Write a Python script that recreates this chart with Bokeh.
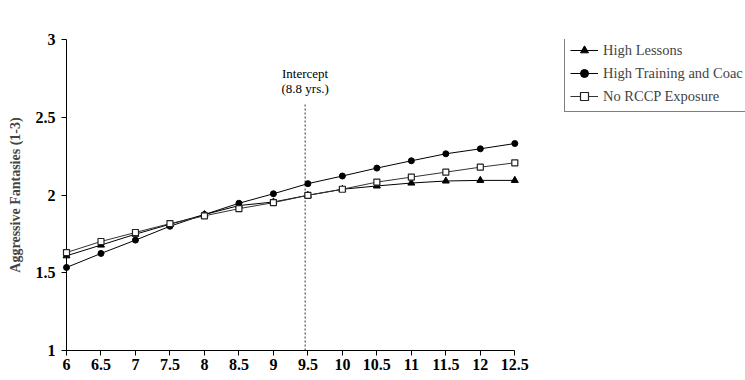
from bokeh.plotting import figure
from bokeh.models import Range1d, FixedTicker, NumeralTickFormatter, Legend, LegendItem, Label
from bokeh.embed import file_html
from bokeh.resources import INLINE

age = [6, 6.5, 7, 7.5, 8, 8.5, 9, 9.5, 10, 10.5, 11, 11.5, 12, 12.5]
high_lessons = [1.609, 1.678, 1.748, 1.812, 1.874, 1.932, 1.955, 1.998, 2.037, 2.058, 2.077, 2.090, 2.094, 2.094]
high_training = [1.534, 1.624, 1.710, 1.799, 1.874, 1.947, 2.008, 2.073, 2.122, 2.173, 2.220, 2.265, 2.297, 2.331]
no_rccp = [1.630, 1.701, 1.759, 1.816, 1.866, 1.912, 1.951, 1.998, 2.037, 2.083, 2.115, 2.147, 2.179, 2.207]
x_ticks = [6, 6.5, 7, 7.5, 8, 8.5, 9, 9.5, 10, 10.5, 11, 11.5, 12, 12.5]
y_ticks = [1, 1.5, 2, 2.5, 3]
intercept_x = 9.46
intercept_top = 2.588

SERIF = "Liberation Serif"

# frame spans the full width to the right edge; the x axis itself stops at 12.5
p = figure(width=745, height=380, output_backend="svg", toolbar_location=None,
           x_range=Range1d(6, 15.845), y_range=Range1d(1, 3),
           min_border_left=66, min_border_right=0, min_border_top=39, min_border_bottom=30)
p.outline_line_color = None
p.xgrid.visible = False
p.ygrid.visible = False
p.background_fill_color = "white"

for ax in (p.xaxis[0], p.yaxis[0]):
    ax.axis_line_color = "black"
    ax.axis_line_width = 1
    ax.major_tick_line_color = "black"
    ax.major_tick_in = 0
    ax.major_tick_out = 5
    ax.minor_tick_line_color = None
    ax.major_label_text_font = SERIF
    ax.major_label_text_font_style = "bold"
    ax.major_label_text_font_size = "16px"
    ax.major_label_text_color = "black"

p.xaxis.bounds = (6, 12.5)
p.xaxis.ticker = FixedTicker(ticks=x_ticks)
p.yaxis.ticker = FixedTicker(ticks=y_ticks)
p.xaxis.formatter = NumeralTickFormatter(format="0.[0]")
p.yaxis.formatter = NumeralTickFormatter(format="0.[0]")
p.xaxis.major_label_standoff = 3
p.yaxis.major_label_standoff = 6

p.yaxis.axis_label = "Aggressive Fantasies (1-3)"
p.yaxis.axis_label_text_font = SERIF
p.yaxis.axis_label_text_font_style = "bold"
p.yaxis.axis_label_text_font_size = "14px"
p.yaxis.axis_label_standoff = 10

# intercept reference line
p.segment(x0=[intercept_x], y0=[1], x1=[intercept_x], y1=[intercept_top],
          line_color="#333333", line_width=1, line_dash="2 2")
p.add_layout(Label(x=intercept_x, y=2.78, text="Intercept", text_align="center",
                   text_baseline="middle", text_font=SERIF, text_font_size="13px",
                   text_color="black"))
p.add_layout(Label(x=intercept_x, y=2.685, text="(8.8 yrs.)", text_align="center",
                   text_baseline="middle", text_font=SERIF, text_font_size="13px",
                   text_color="black"))

l1 = p.line(age, high_lessons, line_color="black", line_width=1)
m1 = p.scatter(age, high_lessons, marker="triangle", size=7, fill_color="black", line_color="black")
l2 = p.line(age, high_training, line_color="black", line_width=1)
m2 = p.scatter(age, high_training, marker="circle", size=6, fill_color="black", line_color="black")
l3 = p.line(age, no_rccp, line_color="#333333", line_width=1)
m3 = p.scatter(age, no_rccp, marker="square", size=6, fill_color="white", line_color="#222222", line_width=1.2)
for r in (m1, m2, m3):
    r.level = "overlay"

legend = Legend(items=[
    LegendItem(label="High Lessons", renderers=[l1, m1]),
    LegendItem(label="High Training and Coac", renderers=[l2, m2]),
    LegendItem(label="No RCCP Exposure", renderers=[l3, m3]),
], location=(498, 238))
legend.label_text_font = SERIF
legend.label_text_font_size = "14.5px"
legend.border_line_color = "black"
legend.border_line_width = 1
legend.padding = 5
legend.spacing = 3
legend.glyph_width = 28
legend.label_standoff = 5
legend.margin = 0
p.add_layout(legend)

open("out.html", "w").write(file_html(p, INLINE))
